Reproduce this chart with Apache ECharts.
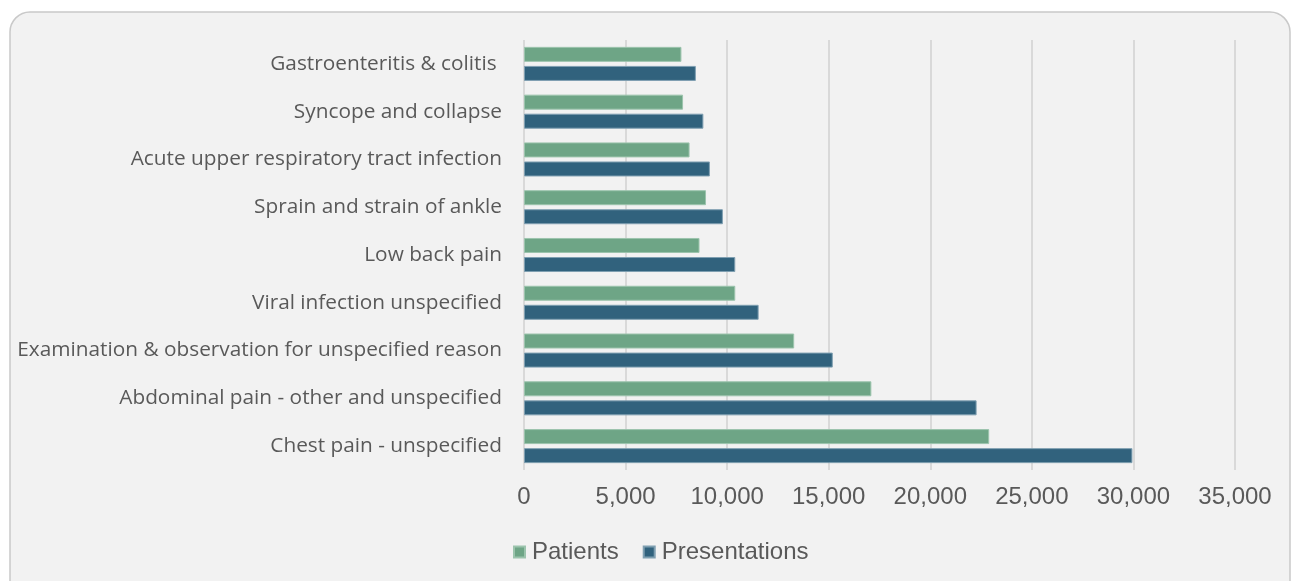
<!DOCTYPE html>
<html>
<head>
<meta charset="utf-8">
<script src="https://cdn.jsdelivr.net/npm/echarts@6/dist/echarts.min.js"></script>
<style>
  html, body { margin: 0; padding: 0; background: #fff; }
  #chart { width: 1295px; height: 581px; }
</style>
</head>
<body>
<div id="chart"></div>
<script>
// categories, bottom to top (as the y axis draws them)
var categories = [
  'Chest pain - unspecified',
  'Abdominal pain - other and unspecified',
  'Examination & observation for unspecified reason',
  'Viral infection unspecified',
  'Low back pain',
  'Sprain and strain of ankle',
  'Acute upper respiratory tract infection',
  'Syncope and collapse',
  'Gastroenteritis & colitis '
];
var patients      = [22900, 17100, 13300, 10400, 8640, 8960, 8150, 7830, 7750];
var presentations = [29950, 22280, 15200, 11550, 10400, 9790, 9150, 8830, 8460];

var myChart = echarts.init(document.getElementById('chart'));

myChart.setOption({
  backgroundColor: '#ffffff',
  textStyle: { fontFamily: 'Liberation Sans, Arial, sans-serif' },
  graphic: [{
    type: 'rect',
    z: -10,
    shape: { x: 10, y: 12, width: 1280, height: 600, r: 20 },
    style: { fill: '#f2f2f2', stroke: '#c9c9c9', lineWidth: 1.5 }
  }],
  grid: { left: 524, right: 60, top: 40, bottom: 111, containLabel: false },
  legend: {
    top: 535,
    left: 508,
    itemWidth: 11,
    itemHeight: 11,
    itemGap: 24,
    icon: 'rect',
    textStyle: { color: '#595959', fontSize: 24, padding: [0, 0, 0, 2] },
    data: ['Patients', 'Presentations']
  },
  xAxis: {
    type: 'value',
    min: 0,
    max: 35000,
    interval: 5000,
    axisLine: { show: false },
    axisTick: { show: false },
    splitLine: { lineStyle: { color: '#d9d9d9', width: 2 } },
    axisLabel: {
      color: '#595959',
      fontSize: 24,
      margin: 15,
      formatter: function (v) { return v.toLocaleString('en-US'); }
    }
  },
  yAxis: {
    type: 'category',
    data: categories,
    axisLine: { show: false },
    axisTick: { show: false },
    axisLabel: { color: '#595959', fontSize: 20.8, margin: 22, fontFamily: 'Open Sans, sans-serif' }
  },
  series: [
    {
      name: 'Patients',
      type: 'bar',
      data: patients,
      barWidth: 15,
      barGap: '27%',
      itemStyle: { color: '#6ea586', borderColor: '#9cc4ad', borderWidth: 1 }
    },
    {
      name: 'Presentations',
      type: 'bar',
      data: presentations,
      barWidth: 15,
      itemStyle: { color: '#31627d', borderColor: '#7f9fb1', borderWidth: 1 }
    }
  ]
});
</script>
</body>
</html>
